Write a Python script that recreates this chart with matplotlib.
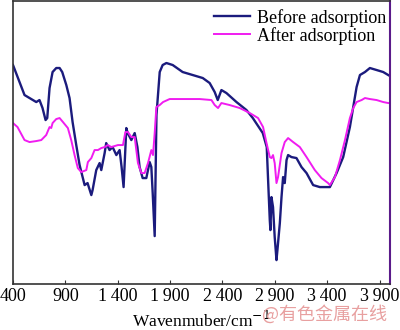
import matplotlib
matplotlib.use('Agg')
import matplotlib.pyplot as plt

# Spektrum före adsorption (vågtal, transmittans i godtyckliga enheter)
wn_before = [400, 510, 558, 622, 653, 682, 711, 727, 749, 778, 813, 845, 870, 909, 940,
             969, 1004, 1036, 1084, 1112, 1148, 1160, 1195, 1227, 1243, 1275, 1290, 1322,
             1351, 1387, 1418, 1437, 1456, 1482, 1495, 1530, 1562, 1588, 1609, 1638, 1673,
             1705, 1721, 1734, 1753, 1770, 1801, 1829, 1865, 1925, 2020, 2116, 2212, 2278,
             2326, 2355, 2390, 2438, 2534, 2629, 2690, 2785, 2823, 2836, 2852, 2858, 2868,
             2883, 2899, 2916, 2925, 2948, 2964, 2979, 2995, 3012, 3027, 3059, 3107, 3155,
             3203, 3266, 3330, 3394, 3426, 3490, 3553, 3617, 3649, 3681, 3713, 3761, 3808,
             3872, 3935, 3983, 4000]
t_before = [219, 189, 186, 182, 184, 176, 164, 166, 196, 212, 216, 216, 212, 199, 186,
            162, 139, 119, 99, 101, 89, 94, 114, 121, 114, 131, 141, 134,
            137, 129, 134, 117, 97, 156, 151, 144, 151, 137, 117, 106, 106,
            122, 117, 91, 48, 169, 212, 219, 221, 219, 212, 209, 206, 201,
            192, 184, 194, 191, 182, 174, 166, 151, 137, 104, 64, 54, 87,
            77, 47, 24, 34, 61, 87, 107, 101, 124, 129, 127, 126, 117,
            111, 99, 97, 97, 97, 111, 127, 157, 177, 197, 209, 212, 216,
            214, 212, 209, 208]

# Spektrum efter adsorption
wn_after = [400, 443, 510, 558, 622, 670, 717, 749, 765, 778, 813, 845, 877, 924, 956,
            988, 1019, 1052, 1100, 1115, 1148, 1179, 1211, 1243, 1275, 1306, 1339, 1402,
            1450, 1473, 1498, 1530, 1562, 1593, 1626, 1657, 1689, 1721, 1737, 1753, 1769,
            1801, 1833, 1896, 2020, 2183, 2295, 2326, 2358, 2390, 2469, 2565, 2661, 2740,
            2788, 2821, 2852, 2868, 2883, 2899, 2916, 2931, 2964, 2995, 3027, 3075, 3139,
            3203, 3282, 3346, 3409, 3426, 3474, 3522, 3570, 3617, 3649, 3681, 3729, 3761,
            3808, 3872, 3935, 3983, 4000]
t_after = [161, 157, 144, 142, 143, 144, 149, 157, 156, 161, 165, 166, 162, 156, 144,
           129, 116, 112, 114, 122, 126, 134, 134, 136, 137, 139, 137, 139,
           139, 152, 152, 147, 147, 121, 111, 111, 121, 134, 129, 151, 177,
           179, 182, 185, 185, 185, 184, 179, 176, 181, 179, 176, 171, 166,
           157, 141, 127, 126, 129, 121, 101, 107, 131, 142, 146, 142, 137,
           127, 114, 106, 101, 99, 107, 124, 144, 166, 176, 182, 184, 186,
           185, 184, 182, 181, 181]

tick_pos = [400, 900, 1400, 1900, 2400, 2900, 3400, 3900]
tick_lbl = ['400', '900', '1\u2009400', '1\u2009900', '2\u2009400', '2\u2009900',
            '3\u2009400', '3\u2009900']

plt.rcParams['font.family'] = ['Liberation Serif', 'DejaVu Serif']

fig = plt.figure(figsize=(4, 3.3), dpi=100)
ax = fig.add_axes([0.0325, 0.139, 0.9425, 0.858])

ax.plot(wn_before, t_before, color='#1b1b7d', lw=1.7, label='Before adsorption')
ax.plot(wn_after, t_after, color='#f01cf0', lw=1.4, label='After adsorption')

ax.set_xlim(400, 4000)
ax.set_ylim(0, 283)
ax.set_yticks([])
ax.set_xticks(tick_pos)
ax.set_xticklabels(tick_lbl, fontsize=13)
ax.tick_params(axis='x', direction='in', length=3, width=0.8, pad=3, colors='#333333')
for lab in ax.get_xticklabels():
    lab.set_color('black')

for side in ['left', 'bottom', 'top']:
    ax.spines[side].set_color('#333333')
    ax.spines[side].set_linewidth(1.2)
ax.spines['right'].set_color('#5a1a8a')
ax.spines['right'].set_linewidth(1.5)

ax.set_xlabel('Wavenmuber/cm$^{-1}$', fontsize=12.5, labelpad=4)

ax.legend(loc='upper right', frameon=False, fontsize=13, handlelength=2.0,
          handletextpad=0.4, labelspacing=0.0, borderaxespad=0.0,
          borderpad=0.2, bbox_to_anchor=(1.0, 0.985))

fig.text(0.655, 0.03, '@有色金属在线', color='#e8a0a0', fontsize=13,
         family=['Noto Sans CJK SC', 'DejaVu Sans'])

fig.savefig('out.png', dpi=100)
